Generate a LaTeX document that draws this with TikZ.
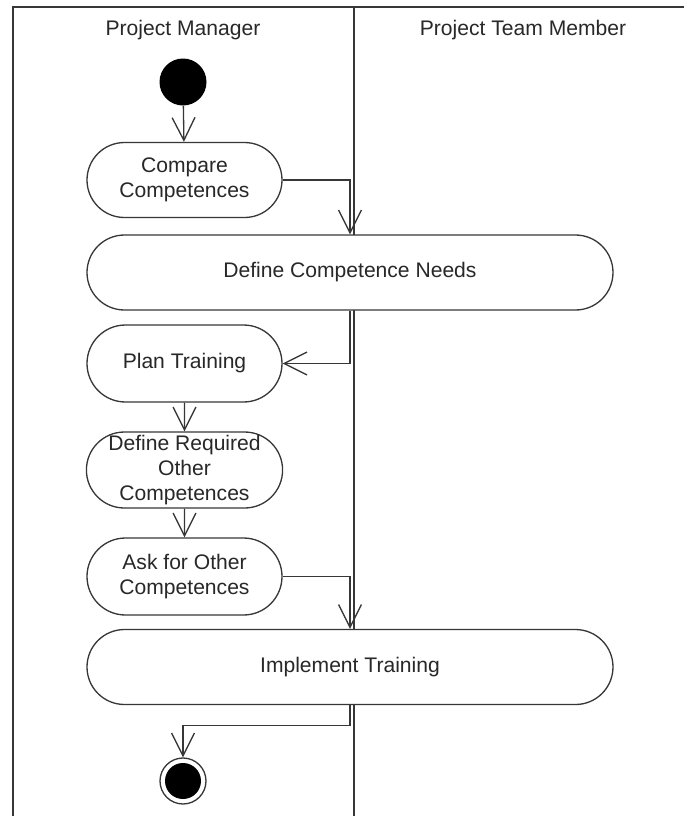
\documentclass[tikz,border=0pt]{standalone}
\usepackage{fontspec}
\setmainfont{Liberation Sans}
\usetikzlibrary{arrows.meta,shapes.misc,positioning,calc}
\definecolor{edge}{RGB}{55,55,55}
\definecolor{ink}{RGB}{40,40,40}

\begin{document}
\begin{tikzpicture}[x=0.02cm,y=-0.02cm]
			\tikzset{line/.style={draw=edge,line width=0.75pt}}
			\tikzset{flow/.style={line,-{Straight Barb[length=13pt,width=13pt,line width=0.75pt]}}}
			\tikzset{action/.style={line,fill=white,shape=rounded rectangle,inner sep=0pt,align=center,
						font=\fontsize{12}{14}\selectfont,text=ink,minimum height=75*0.02cm}}
			\tikzset{small/.style={action,minimum width=195*0.02cm}}
			\tikzset{wide/.style={action,minimum width=526*0.02cm}}
			\tikzset{lane/.style={font=\fontsize{12}{14}\selectfont,text=ink}}

			\useasboundingbox (0,0) rectangle (684,816);

			% swimlanes
			\draw[line] (13,816) -- (13,7) -- (684,7);
			\draw[line] (354,7) -- (354,816);
			\node[lane] (pm) at (183,30) {Project Manager};
			\node[lane] (ptm) at (523,30) {Project Team Member};

			% activities
			\node[circle,fill=black,inner sep=0pt,minimum size=47*0.02cm] (start) at (183,82) {};
			\node[small] (compare) at (184.5,180) {Compare\\Competences};
			\node[wide] (needs) at (350,272.5) {Define Competence Needs};
			\node[small,minimum height=77*0.02cm] (plan) at (184.5,363.5) {Plan Training};
			\node[small,minimum height=76*0.02cm] (required) at (184.5,470) {Define Required\\Other\\Competences};
			\node[small,minimum height=77*0.02cm] (ask) at (184.5,576.5) {Ask for Other\\Competences};
			\node[wide] (implement) at (350,667) {Implement Training};
			\node[circle,line,fill=white,inner sep=0pt,minimum size=46*0.02cm] (end) at (183,781) {};
			\node[circle,fill=black,inner sep=0pt,minimum size=36*0.02cm] (endin) at (end) {};

			% transitions
			\draw[flow] (start) -- (compare);
			\draw[flow] (compare.east) -| (needs.north);
			\draw[flow] (needs.south) |- (plan.east);
			\draw[flow] (plan) -- (required);
			\draw[flow] (required) -- (ask);
			\draw[flow] (ask.east) -| (implement.north);
			\coordinate (turn) at ($(implement.south)+(0,20)$);
			\draw[flow] (implement.south) -- (turn) -| (end.north);
		\end{tikzpicture}
\end{document}
